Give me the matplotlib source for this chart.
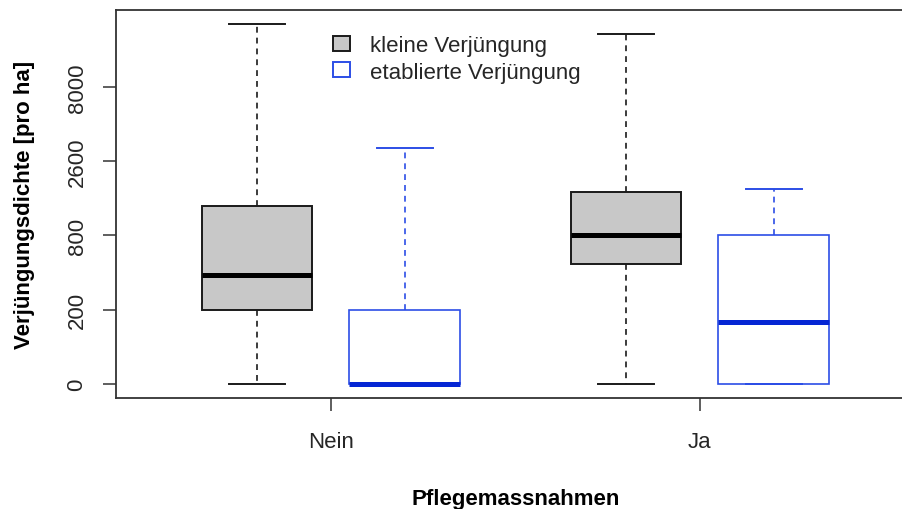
import numpy as np
import matplotlib
matplotlib.use('Agg')
import matplotlib.pyplot as plt
from matplotlib.patches import Patch

# regeneration density per ha, summary stats per box
groups = ['Nein', 'Ja']
series = ['kleine Verjüngung', 'etablierte Verjüngung']
whislo = [0, 0, 0, 0]
q1 = [200, 0, 490, 0]
med = [400, 0, 800, 150]
q3 = [1300, 200, 1600, 800]
whishi = [20300, 3200, 17500, 1700]
yticks = [0, 200, 800, 2600, 8000]

GRAY = '#c8c8c8'
EDGE = '#1a1a1a'
BLUE = '#2c4ee6'
BLUE_MED = '#0526d4'
TXT = '#262626'

plt.rcParams['font.family'] = ['Liberation Sans', 'DejaVu Sans']
plt.rcParams['font.size'] = 16


def fwd(v):
    return np.log(np.maximum(np.asarray(v, dtype=float) + 100, 1e-9))


def inv(u):
    return np.exp(u) - 100


fig = plt.figure(figsize=(9.02, 5.10), dpi=100)
ax = fig.add_axes([116 / 902, 110.7 / 510, 798.6 / 902, 388.3 / 510])
ax.set_yscale('function', functions=(fwd, inv))

positions = [1, 2, 3.5, 4.5]
stats = []
for i in range(4):
    stats.append(dict(whislo=whislo[i], q1=q1[i], med=med[i], q3=q3[i],
                      whishi=whishi[i], fliers=[]))

for i, s in enumerate(stats):
    if i % 2 == 0:
        fc, ec, mc = GRAY, EDGE, 'black'
        lw = 1.4
    else:
        fc, ec, mc = 'white', BLUE, BLUE_MED
        lw = 1.2
    ax.bxp([s], positions=[positions[i]], widths=0.75, capwidths=0.38,
           patch_artist=True, showfliers=False,
           boxprops=dict(facecolor=fc, edgecolor=ec, linewidth=lw),
           medianprops=dict(color=mc, linewidth=3.6, solid_capstyle='butt'),
           whiskerprops=dict(color=ec, linewidth=1.2, linestyle=(0, (3.5, 3))),
           capprops=dict(color=ec, linewidth=1.4))

# y limits with 4% padding in transformed space
lo = fwd(0)
hi = fwd(max(whishi))
pad = 0.04 * (hi - lo)
ax.set_ylim(inv(lo - pad), inv(hi + pad))
ax.set_xlim(0.045, 5.455)

ax.set_yticks(yticks)
ax.set_yticklabels([str(t) for t in yticks], rotation=90, va='center')
ax.yaxis.set_minor_locator(matplotlib.ticker.NullLocator())
ax.set_xticks([1.5, 4.0])
ax.set_xticklabels(groups)
ax.tick_params(axis='both', length=9.5, width=1.1, color='#333333',
               labelcolor=TXT, labelsize=16)
ax.tick_params(axis='y', pad=11)
ax.tick_params(axis='x', pad=14)

for sp in ax.spines.values():
    sp.set_linewidth(1.3)
    sp.set_color('#333333')

ax.set_ylabel('Verjüngungsdichte [pro ha]', fontweight='bold', fontsize=16,
              ha='center', va='center')
ax.yaxis.set_label_coords(-0.115, 0.5)
ax.set_xlabel('Pflegemassnahmen', fontweight='bold', fontsize=16,
              ha='center', va='center')
ax.xaxis.set_label_coords(0.5, -0.257)

handles = [Patch(facecolor=GRAY, edgecolor=EDGE, linewidth=1.4),
           Patch(facecolor='white', edgecolor=BLUE, linewidth=1.4)]
leg = ax.legend(handles, series, loc='upper left',
                bbox_to_anchor=(333 / 902, 1 - 36 / 510),
                bbox_transform=fig.transFigure, frameon=False, borderpad=0,
                borderaxespad=0, handlelength=0.75, handleheight=0.65,
                handletextpad=0.9, labelspacing=0.25, fontsize=16)
for t in leg.get_texts():
    t.set_color(TXT)

fig.savefig('out.png', dpi=100)
